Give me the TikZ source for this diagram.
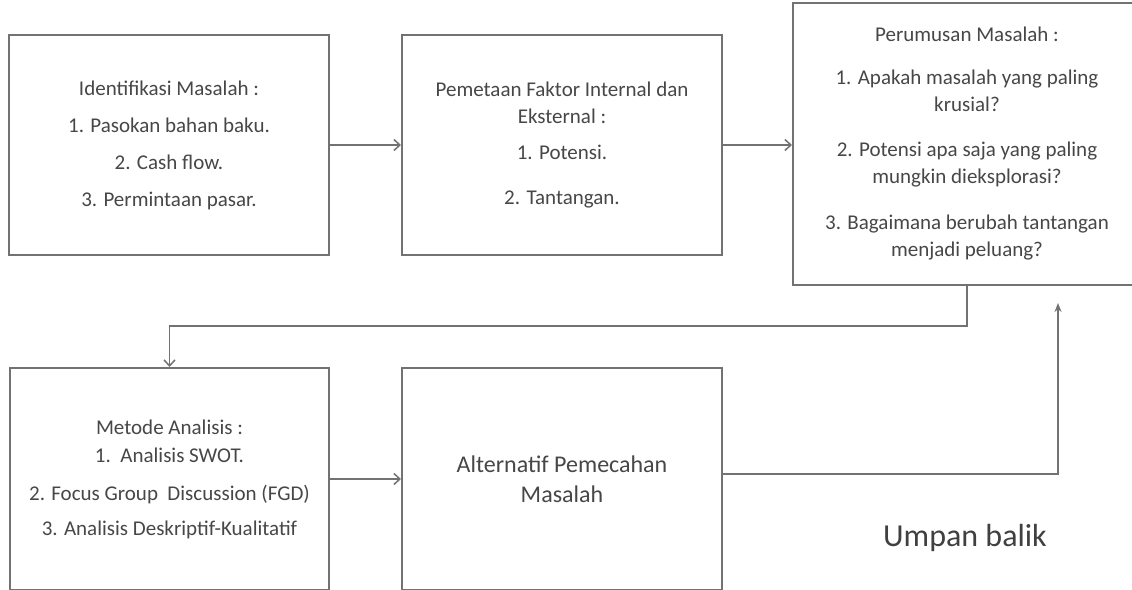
\documentclass[tikz,border=0pt]{standalone}
\usepackage{fontspec}
\setmainfont{Carlito}
\usetikzlibrary{arrows.meta}
\definecolor{linegray}{HTML}{727272}
\definecolor{textgray}{HTML}{474747}
\tikzset{
  stage/.style={draw=linegray, line width=2pt, align=center, text=textgray,
    font=\fontsize{21}{27}\selectfont, inner sep=0pt},
  flow/.style={draw=linegray, line width=1.5pt, -{Straight Barb[length=6pt,width=11pt]}},
}

\begin{document}
\begin{tikzpicture}[x=1pt, y=-1pt]
    \useasboundingbox[fill=white] (0,0) rectangle (1132,589);

    % top row
    \node[stage, minimum width=320, minimum height=220] (identifikasi) at (169,145)
        {Identifikasi Masalah :\\[10pt] 1. Pasokan bahan baku.\\[10pt] 2. Cash flow.\\[10pt] 3. Permintaan pasar.};
    \node[stage, minimum width=320, minimum height=220] (pemetaan) at (562,145)
        {Pemetaan Faktor Internal dan\\ Eksternal :\\[9pt] 1. Potensi.\\[18pt] 2. Tantangan.};
    \node[stage, minimum width=348, minimum height=282] (perumusan) at (967,144)
        {Perumusan Masalah :\\[16pt] 1. Apakah masalah yang paling\\ krusial?\\[18pt]
         2. Potensi apa saja yang paling\\ mungkin dieksplorasi?\\[19pt]
         3. Bagaimana berubah tantangan\\ menjadi peluang?};

    % bottom row
    \node[stage, minimum width=319, minimum height=222] (metode) at (169.5,479)
        {Metode Analisis :\\[1pt] 1.\ \ Analisis SWOT.\\[11pt] 2. Focus Group\ \ Discussion (FGD)\\[8pt] 3. Analisis Deskriptif-Kualitatif};
    \node[stage, minimum width=320, minimum height=222,
        font=\fontsize{24}{30}\selectfont] (alternatif) at (562,479)
        {Alternatif Pemecahan\\ Masalah};

    \node[text=black!75, font=\fontsize{32}{38}\selectfont] (umpan) at (965,538) {Umpan balik};
    \coordinate (balik) at (1058,303);

    \draw[flow] (identifikasi.east) -- (pemetaan.west);
    \draw[flow] (pemetaan.east) -- (perumusan.west |- pemetaan.east);
    \draw[flow] (metode.east) -- (alternatif.west);
    \draw[flow] (perumusan.south) -- ++(0,40) -| (metode.north);
    \draw[flow, -{Stealth[length=9pt,width=7pt]}] ([yshift=5pt]alternatif.east) -| (balik);
\end{tikzpicture}
\end{document}
